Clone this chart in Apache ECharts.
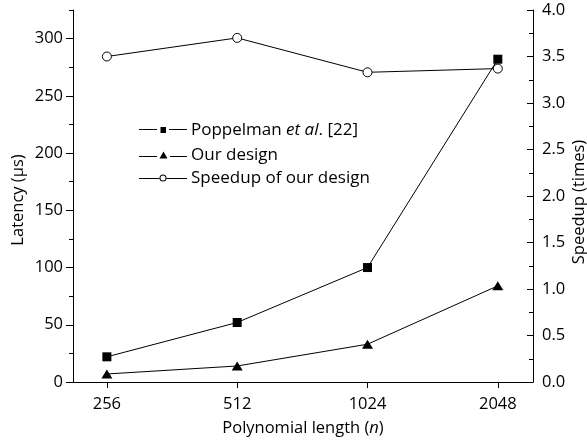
<!DOCTYPE html>
<html><head><meta charset="utf-8">
<script src="https://cdn.jsdelivr.net/npm/echarts@6/dist/echarts.min.js"></script>
<style>html,body{margin:0;padding:0;background:#fff}#c{width:587px;height:445px}</style>
</head><body><div id="c"></div>
<script>
const categories = ['256', '512', '1024', '2048'];
const poppelman = [22, 52, 100, 282];
const ourDesign = [7, 14, 33, 84];
const speedup = [3.5, 3.7, 3.33, 3.37];
const leftTicks = [0, 50, 100, 150, 200, 250, 300];
const xIdx = [0, 1, 2, 3];

const FONT = 'Open Sans';
const FS = 16.5;
const txt = { color: '#000', fontFamily: FONT, fontSize: FS };
const ltxt = { color: '#000', fontFamily: FONT, fontSize: 17 };
const toPts = arr => arr.map((v, i) => [i, v]);

const icons = {
  'Poppelman et al. [22]': { h: 6, path: 'path://M0 2H18V3H0Z M21.5 0H27V6H21.5Z M30 2H48V3H30Z' },
  'Our design': { h: 7, path: 'path://M0 4.5H18V5.5H0Z M20.5 7L24.5 0L28.5 7Z M31 4.5H48V5.5H31Z' },
  'Speedup of our design': { h: 7, path: 'path://M0 3.5H20.8V4.5H0Z M27.2 3.5H48V4.5H27.2Z M20.5 3.5A3.5 3.5 0 1 0 27.5 3.5A3.5 3.5 0 1 0 20.5 3.5Z M21.5 3.5A2.5 2.5 0 1 1 26.5 3.5A2.5 2.5 0 1 1 21.5 3.5Z' }
};

const chart = echarts.init(document.getElementById('c'), null, { renderer: 'canvas' });

function legendAt(name, centerY) {
  const ic = icons[name];
  return {
    data: [{ name: name, icon: ic.path, itemStyle: { color: '#000', borderWidth: 0 } }],
    orient: 'vertical', left: 139, top: centerY - 11,
    itemWidth: 48, itemHeight: ic.h, itemGap: 0, padding: 0,
    textStyle: Object.assign({}, ltxt, { lineHeight: 22, padding: [0, 0, 0, -1], rich: { i: Object.assign({}, ltxt, { lineHeight: 22, fontStyle: 'italic' }) } }),
    formatter: n => n === 'Poppelman et al. [22]' ? 'Poppelman {i|et al}. [22]' : n
  };
}

chart.setOption({
  animation: false,
  backgroundColor: '#fff',
  grid: { left: 73, right: 54, top: 10, bottom: 63, containLabel: false, outerBoundsMode: 'none' },
  legend: [
    legendAt('Poppelman et al. [22]', 130),
    legendAt('Our design', 155),
    legendAt('Speedup of our design', 178)
  ],
  xAxis: {
    type: 'value', min: -0.26, max: 3.27,
    name: 'Polynomial length ({i|n})', nameLocation: 'middle', nameGap: 38, nameMoveOverlap: false,
    nameTextStyle: Object.assign({}, txt, { rich: { i: Object.assign({}, txt, { fontStyle: 'italic' }) } }),
    axisLine: { show: true, onZero: false, lineStyle: { color: '#000', width: 1 } },
    axisTick: { show: true, customValues: xIdx, length: 6, lineStyle: { color: '#000' } },
    axisLabel: Object.assign({}, txt, { customValues: xIdx, margin: 14, formatter: v => categories[Math.round(v)] }),
    splitLine: { show: false }
  },
  yAxis: [
    {
      type: 'value', position: 'left', min: 0, max: 325, interval: 50,
      name: 'Latency (µs)', nameLocation: 'middle', nameGap: 46, nameRotate: 90, nameMoveOverlap: false,
      nameTextStyle: Object.assign({}, txt, { padding: [0, 8, 0, 0] }),
      axisLine: { show: true, onZero: false, lineStyle: { color: '#000', width: 1 } },
      axisTick: { show: true, customValues: leftTicks, length: 7, lineStyle: { color: '#000' } },
      axisLabel: Object.assign({}, txt, { customValues: leftTicks, margin: 10 }),
      splitLine: { show: false }
    },
    {
      type: 'value', position: 'right', min: 0, max: 4, interval: 0.5,
      name: 'Speedup (times)', nameLocation: 'middle', nameGap: 38, nameRotate: 90, nameMoveOverlap: false,
      nameTextStyle: Object.assign({}, txt, { padding: [0, 12, 0, 0] }),
      axisLine: { show: true, onZero: false, lineStyle: { color: '#000', width: 1 } },
      axisTick: { show: true, inside: true, length: 6, lineStyle: { color: '#000' } },
      minorTick: { show: true, splitNumber: 2, length: 4, lineStyle: { color: '#000' } },
      axisLabel: Object.assign({}, txt, { margin: 9, formatter: v => v.toFixed(1) }),
      splitLine: { show: false }, minorSplitLine: { show: false }
    },
    {
      type: 'value', position: 'left', min: 0, max: 325, interval: 25, offset: 0,
      axisLine: { show: false, onZero: false },
      axisTick: { show: true, length: 4, lineStyle: { color: '#000' } },
      axisLabel: { show: false },
      splitLine: { show: false }
    }
  ],
  series: [
    {
      name: 'Poppelman et al. [22]', type: 'line', yAxisIndex: 0,
      data: toPts(poppelman), symbol: 'rect', symbolSize: 9,
      itemStyle: { color: '#000' }, lineStyle: { color: '#000', width: 1 }
    },
    {
      name: 'Our design', type: 'line', yAxisIndex: 0,
      data: toPts(ourDesign), symbol: 'triangle', symbolSize: [11, 9],
      itemStyle: { color: '#000' }, lineStyle: { color: '#000', width: 1 }
    },
    {
      name: 'Speedup of our design', type: 'line', yAxisIndex: 1,
      data: toPts(speedup), symbol: 'circle', symbolSize: 9, showAllSymbol: true,
      itemStyle: { color: '#fff', borderColor: '#000', borderWidth: 1 },
      lineStyle: { color: '#000', width: 1 }
    }
  ]
});
</script></body></html>
